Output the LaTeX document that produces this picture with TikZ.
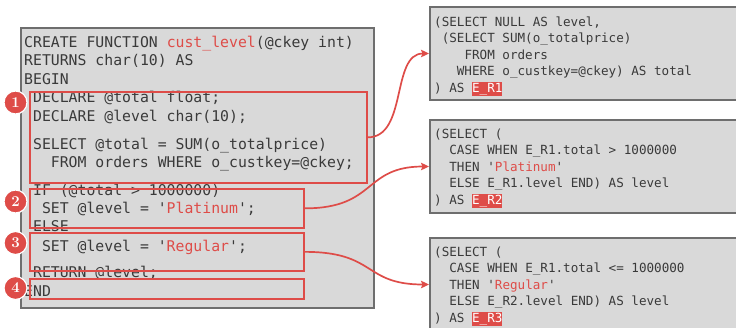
\documentclass[tikz,border=0pt]{standalone}
\usepackage{fontspec}
\setmonofont{DejaVu Sans Mono}
\usetikzlibrary{arrows.meta}
\definecolor{cred}{RGB}{222,76,72}
\definecolor{cfill}{RGB}{217,217,217}
\definecolor{cborder}{RGB}{110,110,110}
\definecolor{ctext}{RGB}{58,58,58}
\newcommand\hlt[1]{\setbox0\hbox{\color{white}#1}\rlap{\color{cred}\rule[-3.6pt]{\wd0}{14pt}}\box0}
\tikzset{
  codebox/.style={draw=cborder, fill=cfill, line width=2pt, inner sep=0pt, anchor=north west},
  redbox/.style={draw=cred, line width=1.7pt, inner sep=0pt, anchor=north west},
  lcode/.style={anchor=base west, inner sep=0pt, text=ctext, font=\ttfamily\fontsize{14.8}{18}\selectfont},
  rcode/.style={anchor=base west, inner sep=0pt, text=ctext, font=\ttfamily\fontsize{12.6}{16}\selectfont},
  num/.style={circle, fill=cred, draw=white, line width=1.2pt, minimum size=23pt, inner sep=0pt, text=white, font=\bfseries\fontsize{15}{15}\selectfont},
  arr/.style={draw=cred, line width=1.7pt, -{Stealth[length=8pt,width=7.5pt,inset=1.5pt]}}
}
\begin{document}
\begin{tikzpicture}[x=1pt,y=-1pt]
\useasboundingbox (0,0) rectangle (736,327);
\clip (0,0) rectangle (736,327);
% left code box
\node[codebox, minimum width=353pt, minimum height=280pt] (lbox) at (20,27) {};
\node[lcode] (l1) at (24,47) {CREATE FUNCTION \textcolor{cred}{cust\_level}(@ckey int)};
\node[lcode] (l2) at (24,65.5) {RETURNS char(10) AS};
\node[lcode] (l3) at (24,84) {BEGIN};
\node[lcode] (l4) at (32.9,102.5) {DECLARE @total float;};
\node[lcode] (l5) at (32.9,121.5) {DECLARE @level char(10);};
\node[lcode] (l6) at (32.9,149) {SELECT @total = SUM(o\_totalprice)};
\node[lcode] (l7) at (50.7,167) {FROM orders WHERE o\_custkey=@ckey;};
\node[lcode] (l8) at (32.9,195) {IF (@total > 1000000)};
\node[lcode] (l9) at (41.8,213) {SET @level = '\textcolor{cred}{Platinum}';};
\node[lcode] (l10) at (32.9,231) {ELSE};
\node[lcode] (l11) at (41.8,251) {SET @level = '\textcolor{cred}{Regular}';};
\node[lcode] (l12) at (32.9,277.5) {RETURN @level;};
\node[lcode] (l13) at (24,296) {END};
% red highlight boxes
\node[redbox, minimum width=337pt, minimum height=91pt] (b1) at (29,91) {};
\node[redbox, minimum width=274pt, minimum height=39pt] (b2) at (29,188) {};
\node[redbox, minimum width=274pt, minimum height=38pt] (b3) at (29,232) {};
\node[redbox, minimum width=274pt, minimum height=20pt] (b4) at (29,278) {};
% numbers
\node[num] (n1) at (15.5,102.5) {1};
\node[num] (n2) at (15.5,201.5) {2};
\node[num] (n3) at (15.5,243) {3};
\node[num] (n4) at (15.5,288) {4};
% right boxes
\node[codebox, minimum width=320pt, minimum height=93pt] (r1) at (429,6) {};
\node[rcode] (a1) at (434,26) {(SELECT NULL AS level,};
\node[rcode] (a2) at (441.6,42.5) {(SELECT SUM(o\_totalprice)};
\node[rcode] (a3) at (464.3,59) {FROM orders};
\node[rcode] (a4) at (456.7,75.5) {WHERE o\_custkey=@ckey) AS total};
\node[rcode] (a5) at (434,92) {) AS \hlt{E\_R1}};
\node[codebox, minimum width=320pt, minimum height=93pt] (r2) at (429,119) {};
\node[rcode] (c1) at (434,138) {(SELECT (};
\node[rcode] (c2) at (449.2,154.5) {CASE WHEN E\_R1.total > 1000000};
\node[rcode] (c3) at (449.2,171) {THEN '\textcolor{cred}{Platinum}'};
\node[rcode] (c4) at (449.2,187.5) {ELSE E\_R1.level END) AS level};
\node[rcode] (c5) at (434,204) {) AS \hlt{E\_R2}};
\node[codebox, minimum width=320pt, minimum height=93pt] (r3) at (429,237) {};
\node[rcode] (d1) at (434,256) {(SELECT (};
\node[rcode] (d2) at (449.2,272.5) {CASE WHEN E\_R1.total <= 1000000};
\node[rcode] (d3) at (449.2,289) {THEN '\textcolor{cred}{Regular}'};
\node[rcode] (d4) at (449.2,305.5) {ELSE E\_R2.level END) AS level};
\node[rcode] (d5) at (434,322) {) AS \hlt{E\_R3}};
% arrows
\draw[arr] (b1.east) .. controls +(40,0) and +(-38,0) .. (r1.west);
\draw[arr] (b2.east) .. controls +(72,0) and +(-66,0) .. (r2.west);
\draw[arr] (b3.east) .. controls +(72,0) and +(-66,0) .. (r3.west);
\end{tikzpicture}
\end{document}
